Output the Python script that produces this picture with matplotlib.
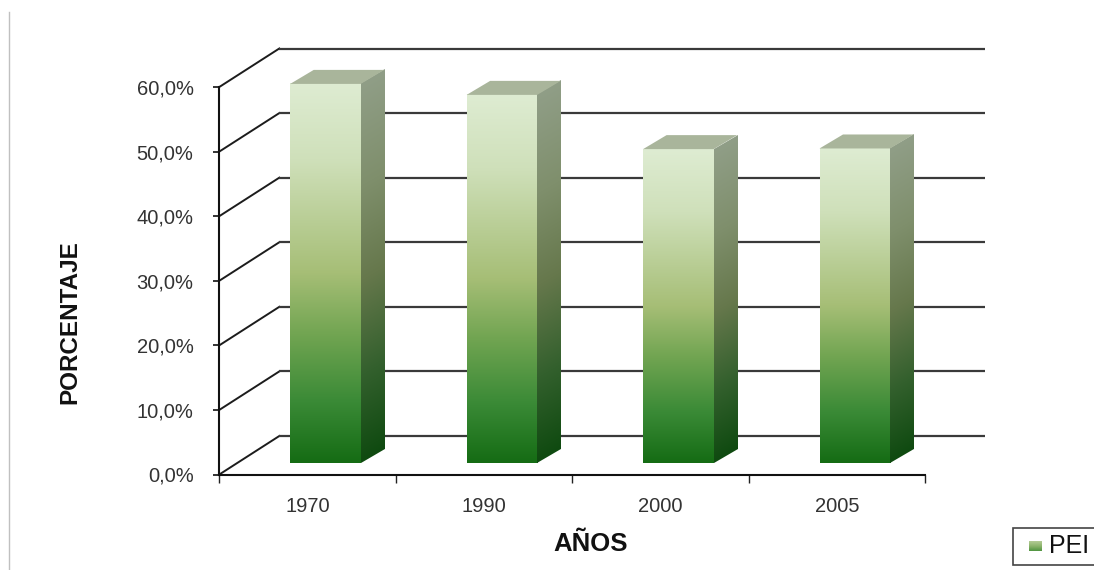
import numpy as np
import matplotlib
matplotlib.use("Agg")
import matplotlib.pyplot as plt
from matplotlib.colors import LinearSegmentedColormap
from matplotlib.patches import Polygon, Rectangle
from matplotlib.transforms import Affine2D, IdentityTransform

plt.rcParams['font.family'] = ['Liberation Sans', 'DejaVu Sans']

categories = ['1970', '1990', '2000', '2005']
series_name = 'PEI'
values = [58.7, 57.0, 48.6, 48.7]
y_ticks = [0, 10, 20, 30, 40, 50, 60]
y_labels = ['0,0%', '10,0%', '20,0%', '30,0%', '40,0%', '50,0%', '60,0%']
x_title = 'AÑOS'
y_title = 'PORCENTAJE'

W, H = 1094, 570
fig = plt.figure(figsize=(W / 100, H / 100), dpi=100, facecolor='white')

# front plane of the 3-D box
L, R, T, B = 219.3, 925, 87, 474.5
ax = fig.add_axes([L / W, 1 - B / H, (R - L) / W, (B - T) / H], facecolor='none')
ax.set_xlim(0, len(categories))
ax.set_ylim(0, 60)

DEPTH = (60.0, 38.5)
BAR_DEPTH = (23.5, 14.0)
BAR_PLANE = (18.0, 11.5)
BAR_W = 0.40

front_cm = LinearSegmentedColormap.from_list('front', [
    (0.0, '#DEECD2'), (0.2, '#CFE0BA'), (0.5, '#A6BE76'),
    (0.66, '#72A552'), (0.84, '#3A8A36'), (1.0, '#156C14')])
side_cm = LinearSegmentedColormap.from_list('side', [
    (0.0, '#909E87'), (0.27, '#7F8F6C'), (0.52, '#66784C'),
    (0.77, '#33602D'), (1.0, '#0F4A10')])
key_cm = LinearSegmentedColormap.from_list('key', ['#B4CC96', '#8DB46C', '#4F9440'])
grad = np.linspace(0, 1, 256).reshape(-1, 1)
ident = IdentityTransform()


def proj(x, v, d=(0, 0)):
    px, py = ax.transData.transform((x, v))
    return px + d[0], py + d[1]


# back wall grid and floor/side diagonals
for v in y_ticks:
    x0, y0 = proj(0, v)
    x1, y1 = proj(0, v, DEPTH)
    x2, y2 = proj(len(categories), v, DEPTH)
    ax.plot([x0, x1], [y0, y1], color='#1c1c1c', lw=1.4, transform=ident, clip_on=False, zorder=1)
    ax.plot([x1, x2], [y1, y2], color='#3a3a3a', lw=1.6, transform=ident, clip_on=False, zorder=1,
            solid_capstyle='butt')

# bars
for i, val in enumerate(values):
    xl = i + 0.5 - BAR_W / 2
    xr = i + 0.5 + BAR_W / 2
    x0, y0 = proj(xl, 0, BAR_PLANE)
    x1, y1 = proj(xr, val, BAR_PLANE)
    dx, dy = BAR_DEPTH
    front = ax.imshow(grad, cmap=front_cm, aspect='auto', extent=(0, 1, 0, 1), origin='upper',
                      interpolation='bilinear', clip_on=False, zorder=3,
                      transform=Affine2D(np.array([[x1 - x0, 0, x0], [0, y1 - y0, y0], [0, 0, 1]])))
    side = ax.imshow(grad, cmap=side_cm, aspect='auto', extent=(0, 1, 0, 1), origin='upper',
                     interpolation='bilinear', clip_on=False, zorder=3,
                     transform=Affine2D(np.array([[dx, 0, x1], [dy, y1 - y0, y0], [0, 0, 1]])))
    ax.add_patch(Polygon([(x0, y1), (x1, y1), (x1 + dx, y1 + dy), (x0 + dx, y1 + dy)],
                         closed=True, facecolor='#A9B59B', edgecolor='none', transform=ident,
                         clip_on=False, zorder=3))

ax.set_xlim(0, len(categories))
ax.set_ylim(0, 60)
ax.set_aspect('auto')

# axes
for s in ('top', 'right'):
    ax.spines[s].set_visible(False)
for s in ('left', 'bottom'):
    ax.spines[s].set_linewidth(1.5)
    ax.spines[s].set_color('#111111')
    ax.spines[s].set_zorder(5)
ax.set_yticks(y_ticks)
ax.set_yticklabels(y_labels, fontsize=14.5, color='#333333')
ax.set_xticks(range(len(categories) + 1))
ax.set_xticklabels([])
ax.set_xticks([i + 0.5 for i in range(len(categories))], minor=True)
ax.set_xticklabels(categories, minor=True, fontsize=14.5, color='#333333')
ax.tick_params(axis='y', length=4.5, width=1.2, color='#111111', pad=14)
ax.tick_params(axis='x', which='major', length=6, width=1.0, color='#222222')
ax.tick_params(axis='x', which='minor', length=0, pad=16)

fig.text(70 / W, 1 - 322 / H, y_title, rotation=90, ha='center', va='center',
         fontsize=17.5, fontweight='bold', color='#111111')
fig.text(591 / W, 1 - 544 / H, x_title, ha='center', va='center',
         fontsize=18.5, fontweight='bold', color='#111111')

# legend (runs off the right edge, as in the reference)
fig.add_artist(Rectangle((1012.5 / W, 1 - 565 / H), 100 / W, 37 / H, transform=fig.transFigure,
                         facecolor='white', edgecolor='#444444', lw=1.2))
key = fig.add_axes([1029 / W, 1 - 551 / H, 13 / W, 10 / H], zorder=10)
key.imshow(grad, cmap=key_cm, aspect='auto')
key.axis('off')
fig.text(1049 / W, 1 - 546 / H, series_name, ha='left', va='center', fontsize=18, color='#111111')

# thin grey rule at the left edge
fig.add_artist(plt.Line2D([8.8 / W, 8.8 / W], [1 - 12 / H, 0], color='#c0c0c0', lw=1.0,
                          transform=fig.transFigure))

fig.savefig('out.png', dpi=100, facecolor='white')
